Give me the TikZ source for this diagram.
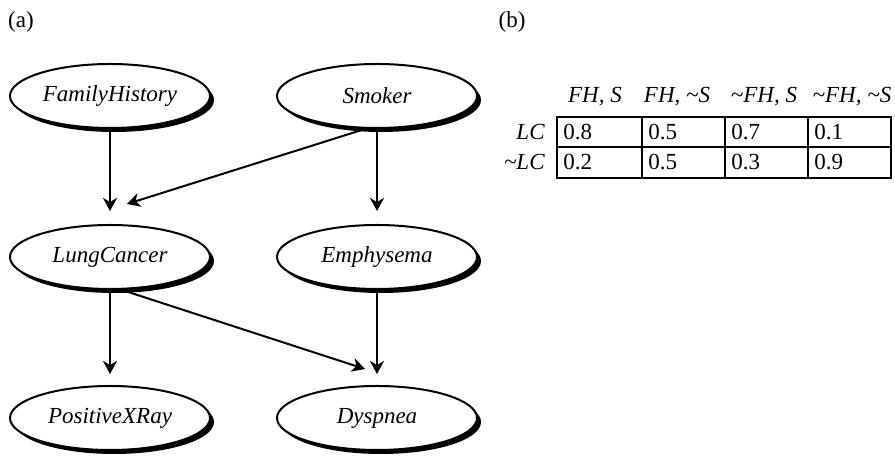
\documentclass[tikz,border=0pt]{standalone}
\usepackage{fontspec}
\setmainfont{Liberation Serif}
\usetikzlibrary{shapes.geometric, shadows, arrows.meta}

\begin{document}
\begin{tikzpicture}[x=0.5pt, y=0.5pt, every node/.style={font=\fontsize{11.5}{13}\selectfont},
	var/.style={ellipse, draw, line width=1pt, fill=white, minimum width=100pt, minimum height=32pt, inner sep=0pt,
		drop shadow={fill=black, opacity=1, shadow xshift=2pt, shadow yshift=-2pt}, font=\fontsize{11.5}{13}\selectfont\itshape},
	link/.style={-{Stealth[length=6.5pt, width=7pt, inset=2pt]}, line width=1pt},
	cell/.style={anchor=west, inner sep=0pt}]
	\useasboundingbox (0,0) rectangle (895,459);
	
	% === (a) network ===
	\node (lbla) at (21,437) {(a)};
	\node[var] (fh) at (110,363) {FamilyHistory};
	\node[var] (smk) at (377,363) {Smoker};
	\node[var] (lc) at (110,202) {LungCancer};
	\node[var] (emp) at (377,202) {Emphysema};
	\node[var] (pxr) at (110,41) {PositiveXRay};
	\node[var] (dys) at (377,41) {Dyspnea};
	
	\draw[link, shorten >=6.5pt] (fh.south) -- (lc.north);
	\draw[link] ([xshift=-6pt]smk.south) -- ([shift={(8.5pt,10pt)}]lc.north);
	\draw[link, shorten >=6.5pt] (smk.south) -- (emp.north);
	\draw[link, shorten >=5.5pt] (lc.south) -- (pxr.north);
	\draw[link] ([xshift=6pt]lc.south) -- ([shift={(-6pt,8pt)}]dys.north);
	\draw[link, shorten >=5.5pt] (emp.south) -- (dys.north);
	
	% === (b) CPT of LungCancer ===
	\node (lblb) at (512,437) {(b)};
	\begin{scope}[every node/.append style={font=\fontsize{11.5}{13}\selectfont\itshape}]
		\node (h1) at (595,362) {FH, S};
		\node (h2) at (677,362) {FH, \textasciitilde S};
		\node (h3) at (764,362) {\textasciitilde FH, S};
		\node (h4) at (852,362) {\textasciitilde FH, \textasciitilde S};
		\node[anchor=east, inner sep=0pt] (r1) at (545,327) {LC};
		\node[anchor=east, inner sep=0pt] (r2) at (545,297) {\textasciitilde LC};
	\end{scope}
	
	\draw[line width=1pt] (557,281) rectangle (891,342);
	\draw[line width=1pt] (557,312) -- (891,312);
	\draw[line width=1pt] (642,281) -- (642,342);
	\draw[line width=1pt] (725,281) -- (725,342);
	\draw[line width=1pt] (808,281) -- (808,342);
	
	\node[cell] (c11) at (563,327) {0.8};
	\node[cell] (c12) at (648,327) {0.5};
	\node[cell] (c13) at (731,327) {0.7};
	\node[cell] (c14) at (814,327) {0.1};
	\node[cell] (c21) at (563,297) {0.2};
	\node[cell] (c22) at (648,297) {0.5};
	\node[cell] (c23) at (731,297) {0.3};
	\node[cell] (c24) at (814,297) {0.9};
\end{tikzpicture}
\end{document}
